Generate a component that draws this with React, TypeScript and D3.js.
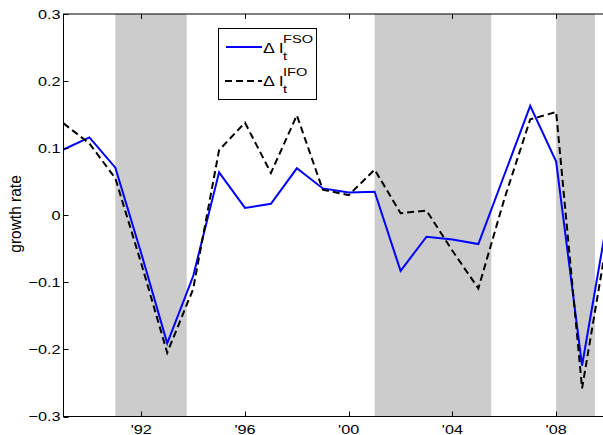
import * as d3 from "d3";
import React, { useEffect, useRef } from "react";

// yearly growth rates
const years = [1989, 1990, 1991, 1992, 1993, 1994, 1995, 1996, 1997, 1998, 1999,
  2000, 2001, 2002, 2003, 2004, 2005, 2006, 2007, 2008, 2009, 2010];
const fso = [0.098, 0.116, 0.071, -0.057, -0.191, -0.091, 0.064, 0.011, 0.017, 0.070, 0.040,
  0.034, 0.035, -0.083, -0.032, -0.036, -0.043, 0.060, 0.163, 0.080, -0.224, 0.000];
const ifo = [0.137, 0.107, 0.055, -0.072, -0.205, -0.110, 0.097, 0.138, 0.063, 0.149, 0.038,
  0.030, 0.068, 0.003, 0.007, -0.053, -0.109, 0.024, 0.143, 0.154, -0.258, -0.028];

// shaded recession periods
const recessionStart = [1991, 2001, 2008];
const recessionEnd = [1993.75, 2005.5, 2009.5];

const yTicks = [-0.3, -0.2, -0.1, 0, 0.1, 0.2, 0.3];
const yTickLabels = ["\u22120.3", "\u22120.2", "\u22120.1", "0", "0.1", "0.2", "0.3"];
const xTicks = [1992, 1996, 2000, 2004, 2008];
const xTickLabels = ["'92", "'96", "'00", "'04", "'08"];

export default function App() {
  const svgRef = useRef<SVGSVGElement>(null);

  useEffect(() => {
    const svg = d3.select(svgRef.current);
    svg.selectAll("*").remove();

    const left = 63.5, right = 608, top = 14, bottom = 416.5;
    const font = "Arial, 'Liberation Sans', Helvetica, sans-serif";
    const stretch = 1.27; // the figure's text looks widened horizontally

    const x = d3.scaleLinear().domain([1989, 2010]).range([left, right]);
    const y = d3.scaleLinear().domain([-0.3, 0.3]).range([bottom, top]);

    const addText = (tx: number, ty: number, str: string, size: number, anchor = "start") =>
      svg.append("text")
        .attr("transform", `translate(${tx},${ty}) scale(${stretch},1)`)
        .attr("text-anchor", anchor)
        .style("font-family", font)
        .style("font-size", size + "px")
        .attr("fill", "#000")
        .text(str);

    // recession shading
    svg.selectAll("rect.rec")
      .data(recessionStart)
      .join("rect")
      .attr("class", "rec")
      .attr("x", d => x(d))
      .attr("y", top)
      .attr("width", (d, i) => x(recessionEnd[i]) - x(d))
      .attr("height", bottom - top)
      .attr("fill", "#cccccc");

    // series
    const line = d3.line<number>()
      .x((d, i) => x(years[i]))
      .y(d => y(d));

    svg.append("path")
      .attr("d", line(fso))
      .attr("fill", "none")
      .attr("stroke", "#0000ff")
      .attr("stroke-width", 2);

    svg.append("path")
      .attr("d", line(ifo))
      .attr("fill", "none")
      .attr("stroke", "#000")
      .attr("stroke-width", 2)
      .attr("stroke-dasharray", "7,4");

    // axes box with inward ticks
    svg.append("rect")
      .attr("x", left).attr("y", top)
      .attr("width", right - left).attr("height", bottom - top)
      .attr("fill", "none").attr("stroke", "#000").attr("stroke-width", 1);

    const tickLen = 5;
    yTicks.forEach((t, i) => {
      const yy = Math.round(y(t)) + 0.5;
      svg.append("line").attr("x1", left).attr("x2", left + tickLen).attr("y1", yy).attr("y2", yy).attr("stroke", "#000");
      svg.append("line").attr("x1", right - tickLen).attr("x2", right).attr("y1", yy).attr("y2", yy).attr("stroke", "#000");
      addText(left - 3, y(t) + 4.5, yTickLabels[i], 12.8, "end");
    });
    xTicks.forEach((t, i) => {
      const xx = Math.round(x(t)) + 0.5;
      svg.append("line").attr("x1", xx).attr("x2", xx).attr("y1", bottom).attr("y2", bottom - tickLen).attr("stroke", "#000");
      svg.append("line").attr("x1", xx).attr("x2", xx).attr("y1", top).attr("y2", top + tickLen).attr("stroke", "#000");
      addText(x(t), bottom + 17, xTickLabels[i], 12.8, "middle");
    });

    // y axis label
    svg.append("text")
      .attr("transform", `translate(21,214) scale(1.1,1) rotate(-90)`)
      .attr("text-anchor", "middle")
      .style("font-family", font)
      .style("font-size", "15.5px")
      .text("growth rate");

    // legend
    svg.append("rect")
      .attr("x", 218.5).attr("y", 28.5).attr("width", 98).attr("height", 71)
      .attr("fill", "#fff").attr("stroke", "#000").attr("stroke-width", 1);
    svg.append("line").attr("x1", 226).attr("x2", 262).attr("y1", 47).attr("y2", 47)
      .attr("stroke", "#0000ff").attr("stroke-width", 2);
    svg.append("line").attr("x1", 225).attr("x2", 262).attr("y1", 81).attr("y2", 81)
      .attr("stroke", "#000").attr("stroke-width", 2).attr("stroke-dasharray", "7,4");

    addText(263, 53, "\u0394 I", 14);
    addText(283, 60, "t", 11.5);
    addText(283, 43, "FSO", 11.5);
    addText(263, 86, "\u0394 I", 14);
    addText(283, 93, "t", 11.5);
    addText(283, 76, "IFO", 11.5);
  }, []);

  return (
    <svg
      ref={svgRef}
      width={603}
      height={435}
      style={{ position: "absolute", left: 0, top: 0, background: "#fff" }}
    ></svg>
  );
}
